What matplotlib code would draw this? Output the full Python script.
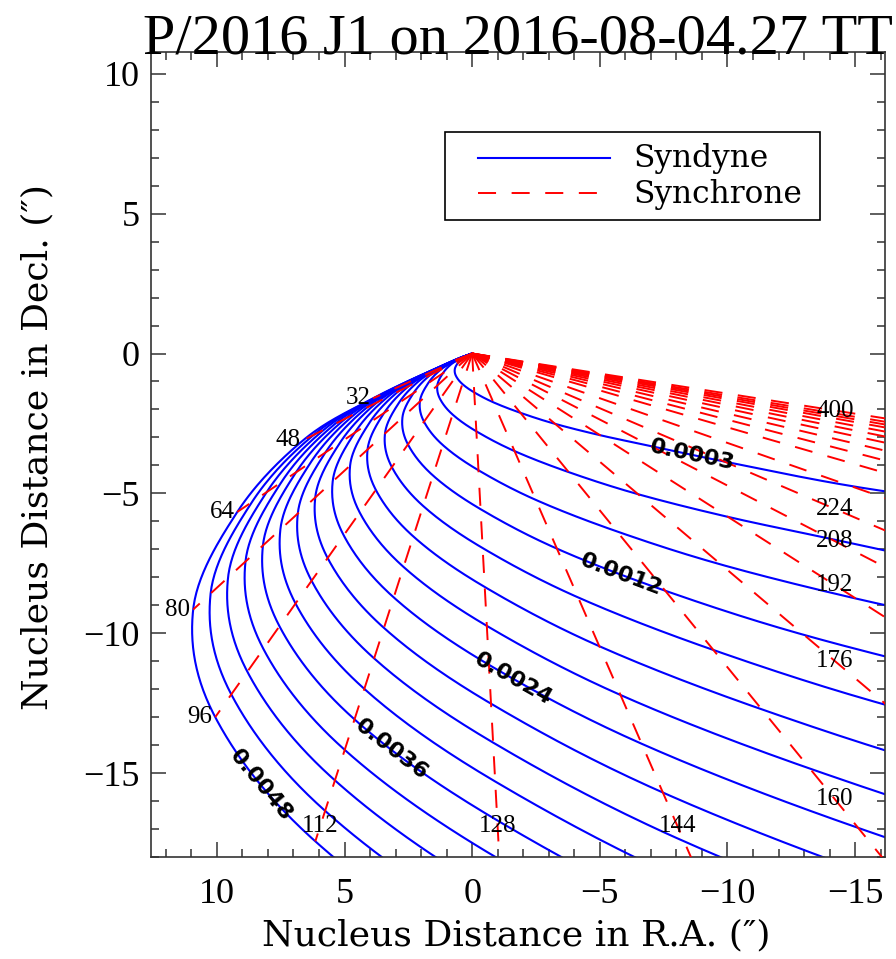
import numpy as np
import matplotlib
matplotlib.use("Agg")
import matplotlib.pyplot as plt
from matplotlib.patches import Rectangle
from matplotlib.lines import Line2D
from matplotlib.ticker import MultipleLocator

# ---------------- data ----------------
TITLE = "P/2016 J1 on 2016-08-04.27 TT"
XLABEL = "Nucleus Distance in R.A. (\u2033)"
YLABEL = "Nucleus Distance in Decl. (\u2033)"

# position of a grain with beta = BETA_REF released TAU_DAYS before the
# observation (arcsec from the nucleus); other betas scale linearly
BETA_REF = 0.0003
TAU_DAYS = [0, 16, 32, 48, 64, 80, 96, 112, 128, 144, 160, 176, 192, 208,
            224, 240, 256, 272, 288, 304, 320, 336, 352, 368, 384, 400]
REF_RA = [0.0, 0.059, 0.2425, 0.414, 0.575, 0.683, 0.629, 0.384, -0.082,
          -0.83, -1.89, -3.25, -5.01, -7.01, -9.87, -14.8, -21.3, -29.5,
          -39.5, -51.0, -64.0, -78.0, -93.0, -109.0, -126.0, -144.0]
REF_DEC = [0.0, -0.021, -0.100, -0.194, -0.354, -0.572, -0.8125, -1.09,
           -1.391, -1.744, -2.12, -2.515, -2.92, -3.31, -3.86, -4.73, -5.62,
           -6.98, -8.48, -10.05, -11.74, -13.46, -15.2, -17.1, -19.0, -20.65]

BETAS = [0.0003, 0.0006, 0.0009, 0.0012, 0.0015, 0.0018, 0.0021, 0.0024,
         0.0027, 0.0030, 0.0033, 0.0036, 0.0039, 0.0042, 0.0045, 0.0048]
LABELED_BETAS = [0.0003, 0.0012, 0.0024, 0.0036, 0.0048]
LABELED_TAUS = [32, 48, 64, 80, 96, 112, 128, 144, 160, 176, 192, 208, 224, 400]

XTICKS = [10, 5, 0, -5, -10, -15]
YTICKS = [10, 5, 0, -5, -10, -15]
XLIM = (12.58, -16.17)
YLIM = (-18.0, 10.78)

# style: age (days) along each labelled syndyne where its label sits
BETA_LABEL_AT = [218, 154, 131, 117, 105]

# ---------------- style ----------------
plt.rcParams['lines.scale_dashes'] = False
SERIF = ['Liberation Serif', 'DejaVu Serif']
WIDE_SERIF = ['DejaVu Serif']
plt.rcParams['font.family'] = SERIF
BLUE = '#0000ff'
RED = '#ff0000'
AXC = '#333333'
DASH = (0, (13, 11.2))

W, H = 896, 959
fig = plt.figure(figsize=(W / 100, H / 100), dpi=100)
L, R, T, B = 151, 885, 52, 857
ax = fig.add_axes([L / W, 1 - B / H, (R - L) / W, (B - T) / H])
ax.set_xlim(*XLIM)
ax.set_ylim(*YLIM)


def catmull_rom(pts, n=30):
    pts = np.asarray(pts, float)
    P = np.vstack([2 * pts[0] - pts[1], pts, 2 * pts[-1] - pts[-2]])
    t = np.linspace(0, 1, n, endpoint=False)[:, None]
    out = []
    for i in range(1, len(P) - 2):
        p0, p1, p2, p3 = P[i - 1], P[i], P[i + 1], P[i + 2]
        seg = 0.5 * (2 * p1 + (-p0 + p2) * t + (2 * p0 - 5 * p1 + 4 * p2 - p3) * t ** 2
                     + (-p0 + 3 * p1 - 3 * p2 + p3) * t ** 3)
        out.append(seg)
    out.append(P[-2][None, :])
    return np.vstack(out)


tau = np.array(TAU_DAYS, float)
ref = np.column_stack([REF_RA, REF_DEC])
dtau = catmull_rom(tau[:, None])[:, 0]
dref = catmull_rom(ref)

# syndynes
for b in BETAS:
    s = b / BETA_REF
    ax.plot(s * dref[:, 0], s * dref[:, 1], color=BLUE, lw=1.5, zorder=2)

# synchrones
bmax = max(BETAS)
smax = bmax / BETA_REF
ends = {}
for t, rx, ry in zip(TAU_DAYS, REF_RA, REF_DEC):
    if t == 0:
        continue
    ex, ey = smax * rx, smax * ry
    ends[t] = (ex, ey)
    ax.plot([0, ex], [0, ey], color=RED, lw=1.4, linestyle=DASH,
            dash_capstyle='butt', zorder=3)

# synchrone labels
inv = ax.transData.inverted()
x_in = inv.transform(ax.transAxes.transform((1 - 50 / (R - L), 0)))[0]
y_in = inv.transform(ax.transAxes.transform((0, 31 / (B - T))))[1]
for t in LABELED_TAUS:
    ex, ey = ends[t]
    tt = 1.0
    if ex < x_in:
        tt = min(tt, x_in / ex)
    if ey < y_in:
        tt = min(tt, y_in / ey)
    if tt >= 1.0:
        ax.annotate(str(t), (ex, ey), xytext=(-2, 0), textcoords='offset points',
                    ha='right', va='center', fontsize=18, zorder=5)
    else:
        ax.text(tt * ex, tt * ey, str(t), ha='center', va='center',
                fontsize=18, zorder=5)

# syndyne labels
for b, tl in zip(LABELED_BETAS, BETA_LABEL_AT):
    s = b / BETA_REF
    px = s * np.interp(tl, dtau, dref[:, 0])
    py = s * np.interp(tl, dtau, dref[:, 1])
    p1 = ax.transData.transform((s * np.interp(tl - 3, dtau, dref[:, 0]),
                                 s * np.interp(tl - 3, dtau, dref[:, 1])))
    p2 = ax.transData.transform((s * np.interp(tl + 3, dtau, dref[:, 0]),
                                 s * np.interp(tl + 3, dtau, dref[:, 1])))
    ang = np.degrees(np.arctan2(p2[1] - p1[1], p2[0] - p1[0]))
    if ang > 90:
        ang -= 180
    if ang < -90:
        ang += 180
    ax.text(px, py, f"{b:.4f}", family='DejaVu Sans', fontweight='bold',
            fontsize=16, rotation=ang, rotation_mode='anchor',
            ha='center', va='center', zorder=6)

# axes styling
ax.set_xticks(XTICKS)
ax.set_yticks(YTICKS)
ax.xaxis.set_minor_locator(MultipleLocator(1))
ax.yaxis.set_minor_locator(MultipleLocator(1))
ax.tick_params(which='both', direction='in', top=True, right=True,
               color=AXC, width=1.1)
ax.tick_params(which='major', length=11)
ax.tick_params(which='minor', length=5.8)
ax.tick_params(axis='x', labelsize=26, pad=15)
ax.tick_params(axis='y', labelsize=26, pad=8)
for sp in ax.spines.values():
    sp.set_color(AXC)
    sp.set_linewidth(1.2)

# legend (drawn in axes fraction)
def fx(p):
    return (p - L) / (R - L)


def fy(p):
    return (B - p) / (B - T)


ax.add_patch(Rectangle((fx(445), fy(220)), (820 - 445) / (R - L), (220 - 132) / (B - T),
                       transform=ax.transAxes, facecolor='white', edgecolor='black',
                       lw=1.2, zorder=7))
ax.add_line(Line2D([fx(478), fx(610)], [fy(158)] * 2, transform=ax.transAxes,
                   color=BLUE, lw=1.5, zorder=8))
ax.add_line(Line2D([fx(478), fx(600)], [fy(193)] * 2, transform=ax.transAxes,
                   color=RED, lw=1.4, linestyle=DASH, zorder=8))
ax.text(fx(633), fy(167), "Syndyne", transform=ax.transAxes, ha='left',
        va='baseline', fontsize=22.5, family=WIDE_SERIF, zorder=8)
ax.text(fx(633), fy(203), "Synchrone", transform=ax.transAxes, ha='left',
        va='baseline', fontsize=22.5, family=WIDE_SERIF, zorder=8)

# titles
fig.text(517.5 / W, 1 - 54 / H, TITLE, ha='center', va='baseline', fontsize=42)
fig.text(516 / W, 1 - 945 / H, XLABEL, ha='center', va='baseline', fontsize=26,
         family=WIDE_SERIF)
fig.text(47 / W, 1 - 447 / H, YLABEL, ha='center', va='baseline',
         fontsize=26, family=WIDE_SERIF, rotation=90, rotation_mode='anchor')

fig.savefig("out.png", dpi=100)
